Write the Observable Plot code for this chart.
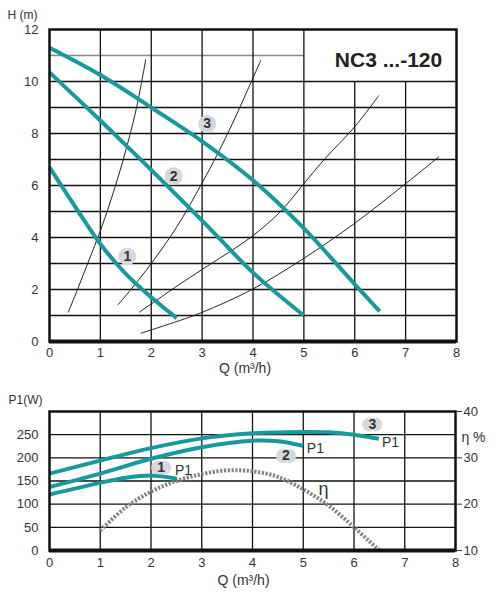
<!DOCTYPE html>
<html>
<head>
<meta charset="utf-8">
<script src="https://cdn.jsdelivr.net/npm/d3@7"></script>
<script src="https://cdn.jsdelivr.net/npm/@observablehq/plot@0.6"></script>
<style>
  body { margin: 0; background: #fff; }
  #chart_h, #chart_p { line-height: 0; }
</style>
</head>
<body>
<div id="chart_h"></div>
<div id="chart_p"></div>
<script>
// ticks
const qTicks = [0, 1, 2, 3, 4, 5, 6, 7, 8];
const hTicks = [0, 2, 4, 6, 8, 10, 12];
const pTicks = [0, 50, 100, 150, 200, 250];
const etaTicks = [10, 20, 30, 40];

// pump curves H(Q), speeds 1..3
const pump1Q = [0, 0.5, 1, 1.5, 2, 2.5];
const pump1H = [6.7, 5.2, 3.75, 2.6, 1.7, 0.9];
const pump2Q = [0, 1, 2, 3, 4, 5];
const pump2H = [10.35, 8.5, 6.6, 4.65, 2.65, 1.0];
const pump3Q = [0, 1, 2, 3, 4, 5, 6, 6.49];
const pump3H = [11.3, 10.25, 9.0, 7.7, 6.2, 4.35, 2.2, 1.16];

// system curves (thin black)
const sys1Q = [0.37, 0.55, 0.75, 0.97, 1.2, 1.45, 1.7, 1.89];
const sys1H = [1.13, 2.0, 3.0, 4.1, 5.4, 7.0, 8.9, 10.83];
const sys2Q = [1.35, 1.6, 2, 2.5, 3, 3.3, 3.6, 3.9, 4.15];
const sys2H = [1.42, 2.0, 3.0, 4.4, 6.1, 7.2, 8.4, 9.7, 10.8];
const sys3Q = [1.77, 2.55, 3, 3.95, 4.54, 4.97, 5.4, 6, 6.47];
const sys3H = [1.13, 2.19, 2.77, 4.0, 5.0, 6.0, 7.0, 8.26, 9.45];
const sys4Q = [1.8, 2.55, 3, 4, 5, 6, 7, 7.65];
const sys4H = [0.32, 0.8, 1.12, 2.02, 3.2, 4.55, 6.07, 7.1];

// power P1(Q)
const power1Q = [0, 1, 1.5, 2, 2.51];
const power1P = [121, 146, 157, 162, 155];
const power2Q = [0, 1, 2, 3, 4, 4.5, 5];
const power2P = [137, 166, 198, 223, 237, 236, 226];
const power3Q = [0, 1, 2, 3, 4, 5, 5.5, 6, 6.49];
const power3P = [166, 194, 221, 242, 253, 256, 255, 250, 241];

// efficiency (%)
const etaQ = [1, 1.5, 2, 2.5, 3, 3.5, 4, 4.5, 5, 5.5, 6, 6.5];
const etaV = [14.3, 19.3, 22.7, 25, 26.5, 27.3, 27.1, 25.9, 23.2, 19.7, 15, 10];

// speed labels
const speedNames = ["1", "2", "3"];
const hLabelQ = [1.53, 2.44, 3.1];
const hLabelH = [3.27, 6.36, 8.37];
const pLabelQ = [2.2, 4.66, 6.36];
const pLabelP = [179, 204, 272];
const p1TextQ = [2.64, 5.24, 6.72];
const p1TextP = [173, 220, 232];

const teal = "#17999d";
const font = "'Liberation Sans', Arial, sans-serif";
const zip = (xs, ys) => xs.map((x, i) => ({x, y: ys[i]}));
const etaToWatt = e => (e - 10) * 10;

const pumps = [zip(pump1Q, pump1H), zip(pump2Q, pump2H), zip(pump3Q, pump3H)];
const systems = [zip(sys1Q, sys1H), zip(sys2Q, sys2H), zip(sys3Q, sys3H), zip(sys4Q, sys4H)];
const powers = [zip(power1Q, power1P), zip(power2Q, power2P), zip(power3Q, power3P)];
const eta = zip(etaQ, etaV);
const hLabels = speedNames.map((n, i) => ({n, x: hLabelQ[i], y: hLabelH[i]}));
const pLabels = speedNames.map((n, i) => ({n, x: pLabelQ[i], y: pLabelP[i], tx: p1TextQ[i], ty: p1TextP[i]}));

let chartH = Plot.plot({
  width: 499,
  height: 378,
  marginTop: 29,
  marginBottom: 37,
  marginLeft: 49,
  marginRight: 43,
  style: {fontFamily: font, fontSize: "13px", color: "#333"},
  x: {domain: [0, 8]},
  y: {domain: [0, 12]},
  marks: [
    Plot.ruleY(d3.range(1, 11), {stroke: "#111", strokeWidth: 1.3}),
    Plot.ruleY([11], {x1: 0, x2: 5, stroke: "#888", strokeWidth: 1.3}),
    Plot.ruleX([1, 2, 3, 4, 5], {stroke: "#111", strokeWidth: 1.3}),
    Plot.ruleX([6, 7], {y1: 0, y2: 10, stroke: "#111", strokeWidth: 1.3}),
    ...systems.map(s => Plot.line(s, {x: "x", y: "y", stroke: "#222", strokeWidth: 1, curve: "catmull-rom"})),
    ...pumps.map(p => Plot.line(p, {x: "x", y: "y", stroke: teal, strokeWidth: 4, curve: "catmull-rom", strokeLinecap: "butt"})),
    Plot.dot(hLabels, {x: "x", y: "y", r: 9, fill: "#d7d8dc"}),
    Plot.text(hLabels, {x: "x", y: "y", text: "n", fontWeight: "bold", fontSize: 14, fill: "#333"}),
    Plot.frame({stroke: "#111", strokeWidth: 2.5}),
    Plot.ruleY([0], {stroke: "#111", strokeWidth: 4}),
    Plot.axisX(qTicks, {tickSize: 0, tickPadding: 6, label: null}),
    Plot.axisY(hTicks, {tickSize: 0, tickPadding: 11, label: null}),
    Plot.text(["NC3 ...-120"], {frameAnchor: "top-right", dx: -68, dy: 31, textAnchor: "middle", lineAnchor: "middle",
      fontFamily: "'Liberation Sans Narrow', 'Liberation Sans', Arial, sans-serif", fontWeight: "bold", fontSize: 21, fill: "#222"}),
    Plot.text(["H (m)"], {frameAnchor: "top-left", dx: -27, dy: -14, textAnchor: "middle", lineAnchor: "middle", fontSize: 12}),
    Plot.text(["Q (m³/h)"], {frameAnchor: "bottom", dx: -8, dy: 27, lineAnchor: "middle", fontSize: 14})
  ]
});
d3.select("#chart_h").append(() => chartH);

let chartP = Plot.plot({
  width: 499,
  height: 218,
  marginTop: 33,
  marginBottom: 46,
  marginLeft: 49,
  marginRight: 44,
  style: {fontFamily: font, fontSize: "13px", color: "#333"},
  x: {domain: [0, 8]},
  y: {domain: [0, 300]},
  marks: [
    Plot.ruleY([50, 100, 150, 200, 250], {stroke: "#111", strokeWidth: 1.3}),
    Plot.ruleX([1, 2, 3, 4, 5, 6, 7], {stroke: "#111", strokeWidth: 1.3}),
    Plot.line(eta, {x: "x", y: d => etaToWatt(d.y), stroke: "#828282", strokeWidth: 4,
      strokeDasharray: "2.2 1.6", strokeLinecap: "butt", curve: "catmull-rom"}),
    ...powers.map(p => Plot.line(p, {x: "x", y: "y", stroke: teal, strokeWidth: 4, curve: "catmull-rom", strokeLinecap: "butt"})),
    Plot.dot(pLabels, {x: "x", y: "y", r: 7, dx: -3, fill: "#d7d8dc"}),
    Plot.dot(pLabels, {x: "x", y: "y", r: 7, dx: 3, fill: "#d7d8dc"}),
    Plot.text(pLabels, {x: "x", y: "y", text: "n", fontWeight: "bold", fontSize: 14, fill: "#333"}),
    Plot.text(pLabels, {x: "tx", y: "ty", text: () => "P1", fontSize: 14, fill: "#333"}),
    Plot.text(["η"], {x: 5.4, y: 132, fontSize: 18, fill: "#333"}),
    Plot.frame({stroke: "#111", strokeWidth: 2.5}),
    Plot.ruleY([0], {stroke: "#111", strokeWidth: 4}),
    Plot.axisX(qTicks, {tickSize: 0, tickPadding: 7, label: null}),
    Plot.axisY(pTicks, {tickSize: 0, tickPadding: 11, label: null}),
    Plot.axisY(etaTicks.map(etaToWatt), {anchor: "right", tickSize: 6, tickPadding: 2, label: null, tickFormat: w => w / 10 + 10}),
    Plot.text(["η %"], {frameAnchor: "top-right", dx: 18, dy: 26, textAnchor: "middle", lineAnchor: "middle", fontSize: 14}),
    Plot.text(["P1(W)"], {frameAnchor: "top-left", dx: -24, dy: -11, textAnchor: "middle", lineAnchor: "middle", fontSize: 12}),
    Plot.text(["Q (m³/h)"], {frameAnchor: "bottom", dx: -9, dy: 30, lineAnchor: "middle", fontSize: 14})
  ]
});
d3.select("#chart_p").append(() => chartP);
</script>
</body>
</html>
